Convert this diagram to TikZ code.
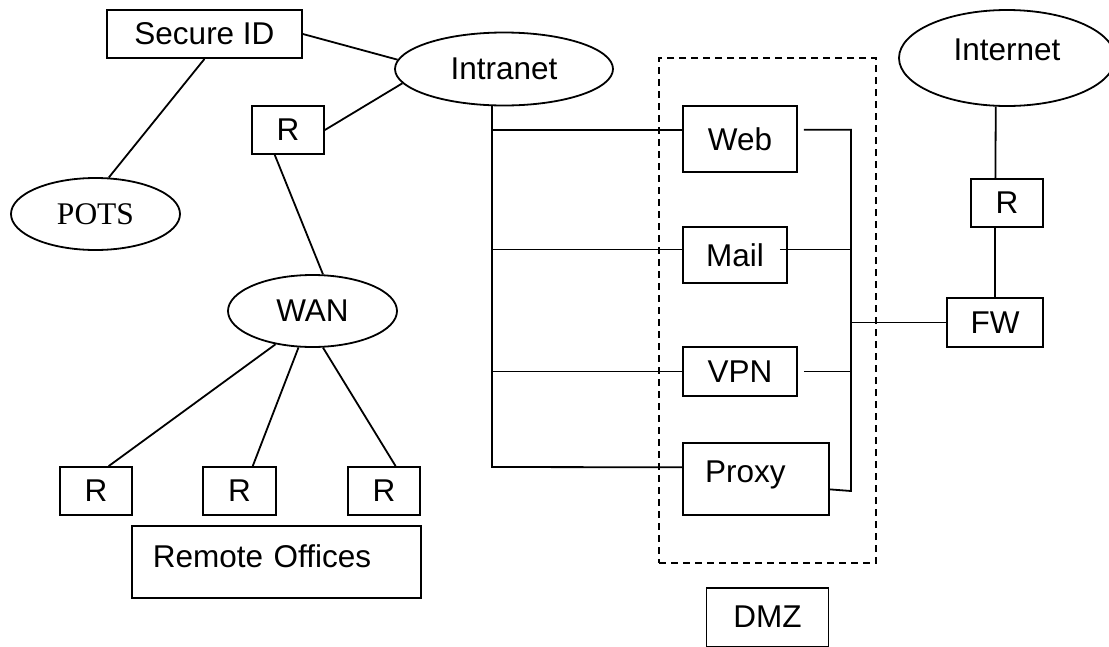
\documentclass[tikz,border=0pt]{standalone}
\usepackage{fontspec}
\setmainfont{Liberation Sans}
\newfontfamily\potsfont{Liberation Serif}
\usetikzlibrary{shapes.geometric,positioning}

\begin{document}
\begin{tikzpicture}[
        x=1pt, y=-1pt,
        every node/.style={font=\fontsize{31.5}{36}\selectfont},
        box/.style={draw, rectangle, line width=1.8pt, inner sep=0pt, align=center},
        net/.style={draw, ellipse, line width=1.8pt, inner sep=0pt},
        zone/.style={draw, rectangle, line width=1.5pt, dash pattern=on 7pt off 5pt, inner sep=0pt},
        link/.style={line width=1.8pt}
    ]
        \useasboundingbox (0,0) rectangle (1109,646);

        % Intranet side
        \node[box, minimum width=195pt, minimum height=48pt] (secid) at (204.5,34) {Secure ID};
        \node[net, minimum width=218pt, minimum height=73pt] (intranet) at (504,69) {Intranet};
        \node[box, minimum width=72pt, minimum height=48pt] (rtop) at (288,130) {R};
        \node[net, minimum width=169pt, minimum height=72pt, font=\potsfont\fontsize{31.5}{36}\selectfont] (pots) at (95.5,214) {POTS};
        \node[net, minimum width=169pt, minimum height=72pt] (wan) at (312.5,311) {WAN};

        % Remote offices
        \node[box, minimum width=72pt, minimum height=48pt] (r1) at (96,491) {R};
        \node[box, minimum width=73pt, minimum height=48pt] (r2) at (239.5,491) {R};
        \node[box, minimum width=72pt, minimum height=48pt] (r3) at (384,491) {R};
        \node[box, inner xsep=21pt, text width=247pt, align=left, text height=42pt, text depth=30pt] (remote) at (276.3,561.7) {Remote Offices};

        % DMZ servers
        \node[zone, minimum width=217pt, minimum height=505pt] (dmz) at (767.5,310.5) {};
        \node[box, minimum width=114pt, minimum height=66pt] (web) at (740,139) {Web};
        \node[box, minimum width=104pt, minimum height=56pt] (mail) at (735,255) {Mail};
        \node[box, minimum width=114pt, minimum height=49pt] (vpn) at (740,371.5) {VPN};
        \node[box, inner xsep=22pt, inner ysep=10pt, text width=102pt, align=left, text height=29pt, text depth=23pt] (proxy) at (756,479) {Proxy};
        \node[box, minimum width=122pt, minimum height=59pt, below=23pt of dmz] (dmzlabel) {DMZ};

        % Internet side
        \node[net, minimum width=216pt, minimum height=96pt, text height=23pt, text depth=19pt] (internet) at (1007,58) {Internet};
        \node[box, minimum width=72pt, minimum height=48pt] (rr) at (1007,203) {R};
        \node[box, minimum width=96pt, minimum height=49pt] (fw) at (995,322.5) {FW};

        % Links
        \draw[link] (secid.east) -- (intranet.175);
        \draw[link] (rtop.east) -- (intranet.188);
        \draw[link] (secid.south) -- (pots.70);
        \draw[link] (rtop.242) -- (wan.74);
        \draw[link] (wan.222) -- (r1.63);
        \draw[link] (wan.249) -- (r2.62);
        \draw[link] (wan.286) -- (r3.65);

        % Inner bus
        \coordinate (lbus) at (492,467);
        \draw[link] (intranet.252) -- (lbus) -- (proxy.171);
        \draw[link] (web.171) -- (web.171 -| lbus);
        \draw[link] (mail.174) -- (mail.174 -| lbus);
        \draw[link] (vpn.west) -- (vpn.west -| lbus);

        % Outer bus
        \coordinate (rbus) at (851,491);
        \draw[link] ([xshift=6pt]web.9) -| (rbus) -- (proxy.-8);
        \draw[link] ([xshift=-8pt]mail.6) -- (mail.6 -| rbus);
        \draw[link] ([xshift=6pt]vpn.east) -- (vpn.east -| rbus);
        \draw[link] (fw.west) -- (fw.west -| rbus);
        \draw[link] (internet.257) -- (rr.115);
        \draw[link] (rr.245) -- (rr.245 |- fw.north);
    \end{tikzpicture}
\end{document}
